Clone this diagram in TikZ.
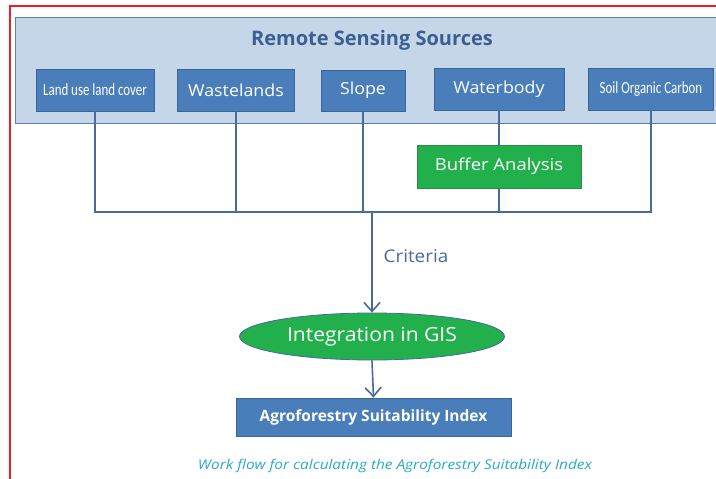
\documentclass[tikz,border=0pt]{standalone}
\usepackage{fontspec}
\setmainfont{Open Sans}
\newfontfamily\cond{Carlito}
\usetikzlibrary{arrows.meta,shapes.geometric}
\definecolor{boxblue}{HTML}{4A7EBB}
\definecolor{boxedge}{HTML}{3A6595}
\definecolor{panelc}{HTML}{C6D6E9}
\definecolor{paneledge}{HTML}{5B7FAE}
\definecolor{linec}{HTML}{4A6A9C}
\definecolor{titlec}{HTML}{3B5F92}
\definecolor{greenc}{HTML}{22B04C}
\definecolor{greenedge}{HTML}{2F8A45}
\definecolor{captionc}{HTML}{2AAAC6}
\definecolor{redc}{HTML}{EE1C25}
\newcommand{\widertxt}[1]{\scalebox{1.08}[1]{#1}}
\tikzset{
  srcbox/.style={draw=boxedge, line width=0.8pt, fill=boxblue, text=white, inner sep=0pt, minimum height=42pt},
  greenbox/.style={draw=greenedge, line width=0.8pt, fill=greenc, text=white, inner sep=0pt},
  conn/.style={draw=linec, line width=1.6pt},
  arr/.style={-{Straight Barb[length=9pt,width=16pt,line width=1.6pt]}},
  mainfs/.style={font=\fontsize{16.5}{20}\selectfont},
  condfs/.style={font=\cond\fontsize{17}{19}\selectfont},
}
\begin{document}
\begin{tikzpicture}[x=1pt,y=-1pt]
\useasboundingbox (0,0) rectangle (716,479);
\clip (0,0) rectangle (716,479);
\fill[white] (0,0) rectangle (716,479);
\draw[redc, line width=2pt] (722,6) -- (10,6) -- (10,485);
\node[draw=paneledge, line width=0.8pt, fill=panelc, anchor=north west, minimum width=710pt, minimum height=106pt, inner sep=0pt] (panel) at (15,17) {};
\node[text=titlec, font=\bfseries\fontsize{20}{22}\selectfont] (title) at (372,40) {Remote Sensing Sources};
\node[srcbox, minimum width=118pt, condfs] (lulc) at (95,90) {\scalebox{0.76}[1]{Land use land cover}};
\node[srcbox, minimum width=117pt, mainfs] (wl) at (236,90) {\widertxt{Wastelands}};
\node[srcbox, minimum width=84pt, minimum height=41pt, mainfs] (slope) at (363,90.5) {\widertxt{Slope}};
\node[srcbox, minimum width=130pt, mainfs] (wb) at (499,89) {\raisebox{2pt}{\widertxt{Waterbody}}};
\node[srcbox, minimum width=125pt, condfs] (soc) at (651,89) {\scalebox{0.76}[1]{Soil Organic Carbon}};
\node[greenbox, minimum width=164pt, minimum height=43pt, font=\fontsize{16.5}{19}\selectfont] (buf) at (499,166.5) {\scalebox{1.12}[1]{Buffer Analysis}};
\node[ellipse, draw=linec, line width=0.8pt, fill=greenc, text=white, inner sep=0pt, minimum width=265pt, minimum height=47pt, font=\fontsize{19.5}{22}\selectfont] (gis) at (372,336.5) {\widertxt{Integration in GIS}};
\node[srcbox, minimum width=275pt, minimum height=38pt, font=\bfseries\fontsize{15.5}{18}\selectfont] (asi) at (373.5,417) {Agroforestry Suitability Index};
\node[text=linec, font=\fontsize{17.5}{20}\selectfont] (crit) at (416,256) {\widertxt{Criteria}};
\node[text=captionc, font=\itshape\fontsize{13.5}{16}\selectfont] (cap) at (395,466) {\scalebox{1.14}[1]{Work flow for calculating the Agroforestry Suitability Index}};
\coordinate (bar) at (372,212);
\draw[conn] (lulc.south) |- (bar);
\draw[conn] (soc.south) |- (bar);
\draw[conn] (wl.south) -- (wl.south |- bar);
\draw[conn] (slope.south) -- (slope.south |- bar);
\draw[conn] (wb.south) -- (buf.north);
\draw[conn] (buf.south) -- (buf.south |- bar);
\draw[conn, arr] (bar) -- (gis.north);
\draw[conn, arr] (gis.south) -- (asi.north);
\end{tikzpicture}
\end{document}
